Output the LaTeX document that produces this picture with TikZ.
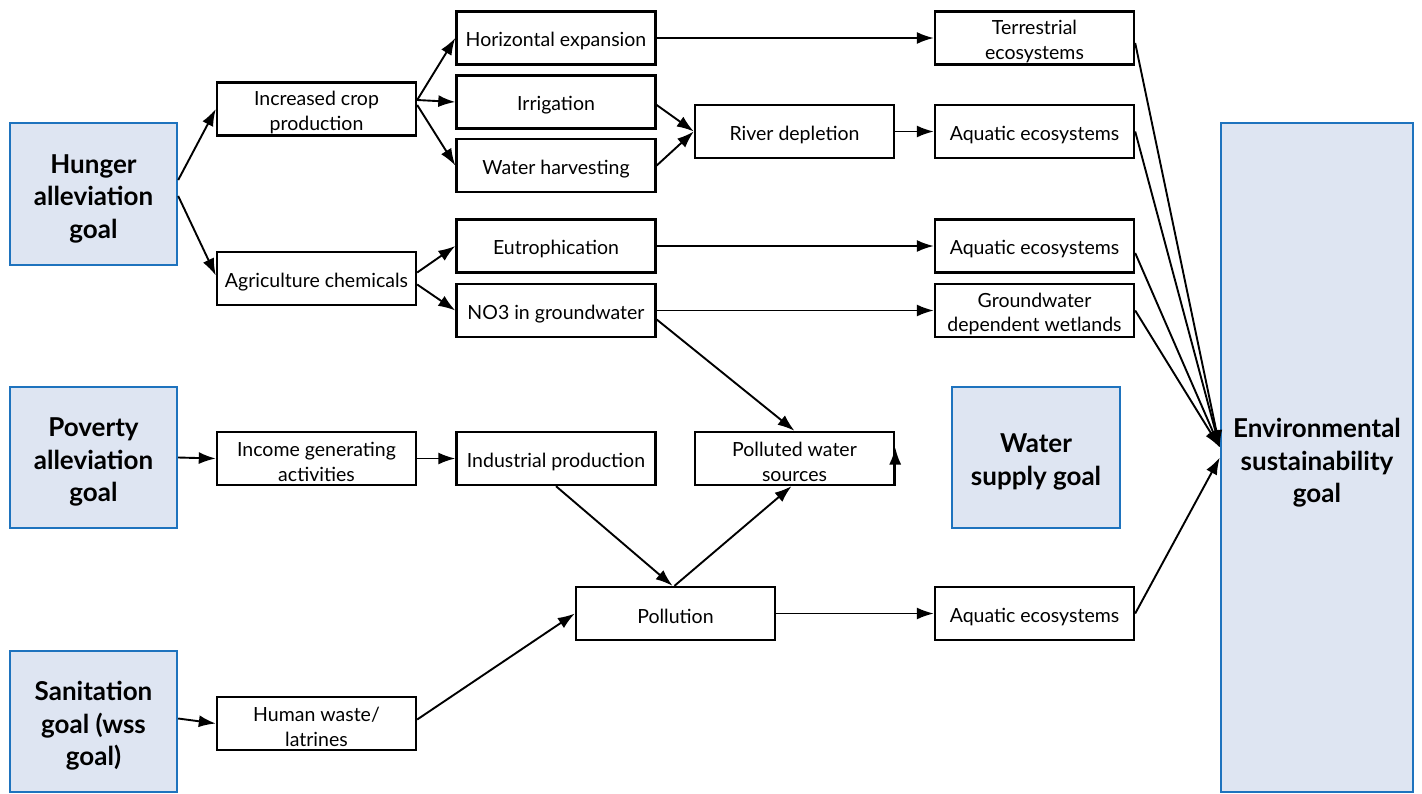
\documentclass[tikz,border=0pt]{standalone}
\usepackage{fontspec}
\setmainfont{Lato}
\usetikzlibrary{arrows.meta,calc}
\definecolor{goalblue}{RGB}{30,115,190}
\definecolor{goalfill}{RGB}{222,229,242}
\newcommand\mystrut{\rule{0pt}{21pt}}
\newcommand\goalstrut{\rule{0pt}{28pt}}
\begin{document}
\begin{tikzpicture}[x=1pt,y=-1pt,
  box/.style={draw=black,line width=2.4pt,fill=white,minimum width=199pt,minimum height=53pt,inner sep=0pt,align=center,font=\fontsize{19.5}{24.5}\selectfont},
  goal/.style={draw=goalblue,line width=2.4pt,fill=goalfill,inner sep=0pt,align=center,font=\fontsize{26}{32.5}\selectfont\bfseries},
  arr/.style={line width=1.9pt,-{Latex[length=17pt,width=12pt]}}]
\useasboundingbox (0,0) rectangle (1422,793);
% goals
\node[goal,minimum width=167pt,minimum height=142pt] (hunger) at (93.5,194) {\goalstrut Hunger\\alleviation\\goal};
\node[goal,minimum width=167pt,minimum height=141pt] (poverty) at (93.5,457.5) {\goalstrut Poverty\\alleviation\\goal};
\node[goal,minimum width=167pt,minimum height=141pt] (sanit) at (93.5,721.5) {\goalstrut Sanitation\\goal (wss\\goal)};
\node[goal,minimum width=168pt,minimum height=141pt] (water) at (1036,457.5) {\goalstrut Water\\supply goal};
\node[draw=goalblue,line width=2.4pt,fill=goalfill,inner sep=0pt,minimum width=192pt,minimum height=669pt] (env) at (1317,457.5) {};
\node[font=\fontsize{26}{32.5}\selectfont\bfseries,align=center] (envtext) at (1317,463) {Environmental\\sustainability\\goal};
% column 1
\node[box] (crop) at (316.5,109) {\mystrut Increased crop\\production};
\node[box] (agri) at (316.5,278.5) {\mystrut Agriculture chemicals};
\node[box] (income) at (316.5,458.5) {\mystrut Income generating\\activities};
\node[box] (waste) at (316.5,723.5) {\mystrut Human waste/\\latrines};
% column 2
\node[box] (horiz) at (556,38) {\mystrut Horizontal expansion};
\node[box] (irrig) at (556,102) {\mystrut Irrigation};
\node[box] (harv) at (556,165.5) {\mystrut Water harvesting};
\node[box] (eutro) at (556,246) {\mystrut Eutrophication};
\node[box] (no3) at (556,310.5) {\mystrut NO3 in groundwater};
\node[box] (indus) at (556,458.5) {\mystrut Industrial production};
% column 3
\node[box] (river) at (794.5,131.5) {\mystrut River depletion};
\node[box] (polluted) at (794.5,458.5) {\mystrut Polluted water\\sources};
\node[box] (pollution) at (675.5,613.5) {\mystrut Pollution};
% column 4
\node[box] (terr) at (1034.5,38) {\mystrut Terrestrial\\ecosystems};
\node[box] (aqua1) at (1034.5,131.5) {\mystrut Aquatic ecosystems};
\node[box] (aqua2) at (1034.5,246) {\mystrut Aquatic ecosystems};
\node[box] (gwdw) at (1034.5,310.5) {\mystrut Groundwater\\dependent wetlands};
\node[box] (aqua3) at (1034.5,613.5) {\mystrut Aquatic ecosystems};
% connectors
\draw[arr] ($(hunger.east)+(0,-14)$) -- (crop.west);
\draw[arr] ($(hunger.east)+(0,2)$) -- ($(agri.west)+(0,-3)$);
\draw[arr] ($(crop.east)+(0,-9)$) -- (horiz.west);
\draw[arr] ($(crop.east)+(0,-9)$) -- (irrig.west);
\draw[arr] ($(crop.east)+(0,-4)$) -- (harv.west);
\draw[arr] ($(irrig.east)+(0,3)$) -- (river.west);
\draw[arr] (harv.east) -- (river.west);
\draw[arr] (horiz.east) -- (terr.west);
\draw[arr] (river.east) -- (aqua1.west);
\draw[arr] ($(agri.east)+(0,-6)$) -- (eutro.west);
\draw[arr] ($(agri.east)+(0,6)$) -- (no3.west);
\draw[arr] (eutro.east) -- (aqua2.west);
\draw[arr] (no3.east) -- (gwdw.west);
\draw[arr] ($(no3.east)+(0,9)$) -- (polluted.north);
\draw[arr] (poverty.east) -- (income.west);
\draw[arr] (income.east) -- (indus.west);
\draw[arr] (indus.south) -- ($(pollution.north)+(-3,0)$);
\draw[arr] ($(pollution.north)+(-1,0)$) -- ($(polluted.south)+(-3,0)$);
\draw[arr] (polluted.south east) -- ($(polluted.east)+(0,-11)$);
\draw[arr] ($(sanit.east)+(0,-3)$) -- (waste.west);
\draw[arr] ($(waste.east)+(0,-4)$) -- (pollution.west);
\draw[arr] (pollution.east) -- (aqua3.west);
\draw[arr] ($(terr.east)+(0,5)$) -- ($(env.west)+(0,-10)$);
\draw[arr] (aqua1.east) -- ($(env.west)+(0,-10)$);
\draw[arr] ($(aqua2.east)+(0,7)$) -- ($(env.west)+(0,-10)$);
\draw[arr] (gwdw.east) -- ($(env.west)+(0,-10)$);
\draw[arr] (aqua3.east) -- (env.west);
\end{tikzpicture}
\end{document}
